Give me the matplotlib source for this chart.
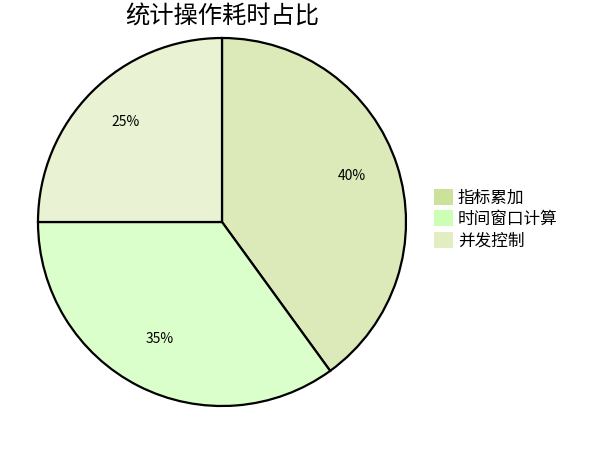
import numpy as np
import matplotlib
matplotlib.use('Agg')
import matplotlib.pyplot as plt
from matplotlib.patches import Patch
from matplotlib.colors import to_rgb

plt.rcParams['font.family'] = ['Noto Sans CJK SC', 'DejaVu Sans']

# data
labels = ['指标累加', '时间窗口计算', '并发控制']
values = [40, 35, 25]
colors = ['#cce199', '#ccffb3', '#e0eec0']
title = '统计操作耗时占比'

# wedges are drawn as the colour at 70% over white
faded = [tuple(0.7 * c + 0.3 for c in to_rgb(col)) for col in colors]

fig = plt.figure(figsize=(6.14, 4.5), dpi=100)
# pie centered at (222,222) px, radius ~184 px
ax = fig.add_axes([(222 - 186) / 614, (450 - 222 - 186) / 450, 372 / 614, 372 / 450])

wedges, texts = ax.pie(values, colors=faded, startangle=90, counterclock=False,
                       wedgeprops=dict(edgecolor='black', linewidth=1.6),
                       radius=184 / 186)

for w, v in zip(wedges, values):
    ang = np.deg2rad((w.theta1 + w.theta2) / 2)
    r = 0.74 * 184 / 186
    ax.text(r * np.cos(ang), r * np.sin(ang) + 0.022, f'{v}%', ha='center', va='center', fontsize=10)

ax.set_xlim(-1, 1)
ax.set_ylim(-1, 1)
ax.set_aspect('equal')

fig.text(222 / 614, 1 - 17 / 450, title, ha='center', va='center', fontsize=17.5)

handles = [Patch(facecolor=c, edgecolor='none') for c in colors]
fig.legend(handles, labels, loc='center left', bbox_to_anchor=(426 / 614, 1 - 219 / 450),
           frameon=False, fontsize=12, handlelength=1.1, handleheight=1.1,
           handletextpad=0.3, labelspacing=0.22, borderpad=0)

fig.savefig('out.png', dpi=100)
